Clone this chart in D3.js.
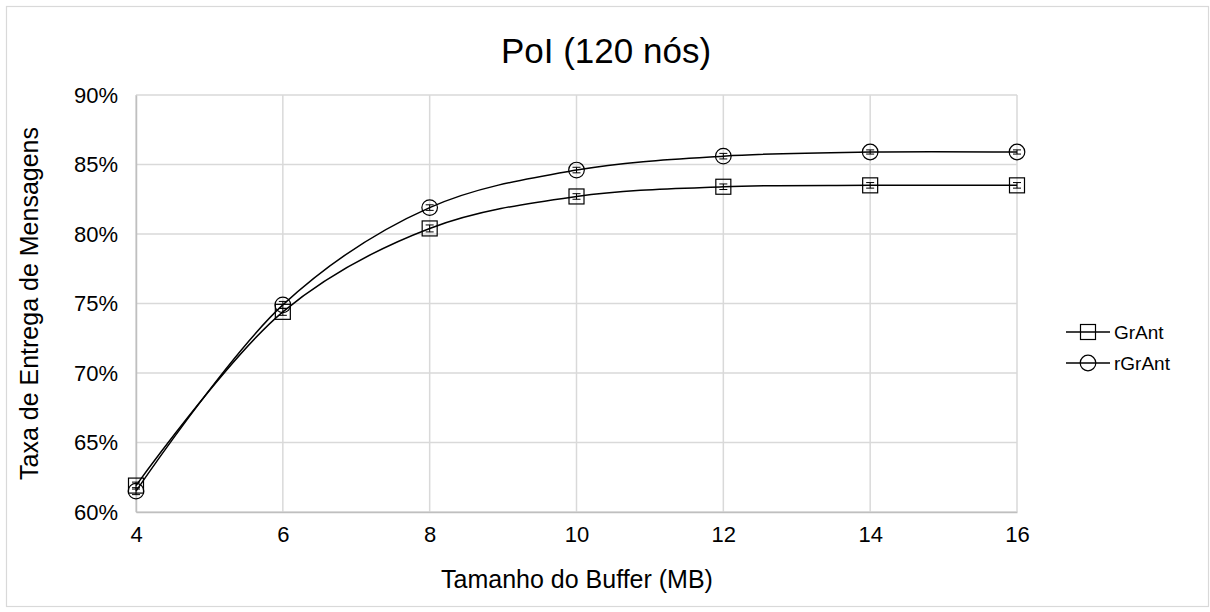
<!DOCTYPE html>
<html>
<head>
<meta charset="utf-8">
<script src="https://cdn.jsdelivr.net/npm/d3@7"></script>
<style>
  html, body { margin: 0; padding: 0; background: #fff; }
  svg { display: block; font-family: "Liberation Sans", Arial, sans-serif; }
</style>
</head>
<body>
<svg id="chart" width="1210" height="612"></svg>
<script>
// Buffer sizes (MB)
const bufferSizes = [4, 6, 8, 10, 12, 14, 16];
// Delivery rate (%) per protocol
const grantValues  = [61.9, 74.4, 80.4, 82.7, 83.4, 83.5, 83.5];
const rgrantValues = [61.5, 74.9, 81.9, 84.6, 85.6, 85.9, 85.9];
// Half-width of the error bars (%)
const grantErr  = [0.25, 0.25, 0.25, 0.2, 0.2, 0.2, 0.2];
const rgrantErr = [0.25, 0.25, 0.2, 0.2, 0.2, 0.15, 0.15];
const yTicks = [60, 65, 70, 75, 80, 85, 90];
const xTicks = [4, 6, 8, 10, 12, 14, 16];

const series = [
  { name: "GrAnt",  values: grantValues,  err: grantErr,  marker: "square" },
  { name: "rGrAnt", values: rgrantValues, err: rgrantErr, marker: "circle" }
];

const svg = d3.select("#chart");
const W = 1210, H = 612;
const plot = { left: 136, right: 1017, top: 95, bottom: 512 };
const tickFont = 22;

// outer frame
svg.append("rect").attr("x", 6.5).attr("y", 6.5).attr("width", W - 8).attr("height", H - 12)
  .attr("fill", "#fff").attr("stroke", "#d9d9d9").attr("stroke-width", 1.2);

const x = d3.scaleLinear().domain([4, 16]).range([plot.left, plot.right]);
const y = d3.scaleLinear().domain([60, 90]).range([plot.bottom, plot.top]);

// grid
const grid = svg.append("g");
grid.selectAll("line.h").data(yTicks).join("line")
  .attr("x1", plot.left).attr("x2", plot.right)
  .attr("y1", d => y(d)).attr("y2", d => y(d))
  .attr("stroke", "#d9d9d9").attr("stroke-width", 1.5);
grid.selectAll("line.v").data(xTicks).join("line")
  .attr("y1", plot.top).attr("y2", plot.bottom)
  .attr("x1", d => x(d)).attr("x2", d => x(d))
  .attr("stroke", "#d9d9d9").attr("stroke-width", 1.5);

// axes
const yAxis = svg.append("g").attr("transform", `translate(${plot.left},0)`)
  .call(d3.axisLeft(y).tickValues(yTicks).tickSize(0).tickPadding(18).tickFormat(d => d + "%"));
const xAxis = svg.append("g").attr("transform", `translate(0,${plot.bottom})`)
  .call(d3.axisBottom(x).tickValues(xTicks).tickSize(0).tickPadding(14).tickFormat(d3.format("d")));
[yAxis, xAxis].forEach(a => {
  a.select(".domain").attr("stroke", "#bfbfbf").attr("stroke-width", 1.5);
  a.selectAll("text").attr("font-size", tickFont).attr("fill", "#000")
    .style("font-family", "'Liberation Sans', Arial, sans-serif");
});

// titles
svg.append("text").attr("x", 606).attr("y", 63).attr("text-anchor", "middle")
  .attr("font-size", 35).attr("fill", "#000").text("PoI (120 nós)");
svg.append("text").attr("x", 577).attr("y", 588).attr("text-anchor", "middle")
  .attr("font-size", 25).attr("fill", "#000").text("Tamanho do Buffer (MB)");
svg.append("text").attr("transform", `translate(38,${(plot.top + plot.bottom) / 2}) rotate(-90)`)
  .attr("text-anchor", "middle").attr("font-size", 25).attr("fill", "#000")
  .text("Taxa de Entrega de Mensagens");

// series
const line = d3.line().x(d => x(d[0])).y(d => y(d[1])).curve(d3.curveCatmullRom.alpha(0.5));

function drawMarker(g, type, cx, cy) {
  if (type === "square") {
    g.append("rect").attr("x", cx - 7.5).attr("y", cy - 7.5).attr("width", 15).attr("height", 15)
      .attr("fill", "none").attr("stroke", "#000").attr("stroke-width", 1.2);
  } else {
    g.append("circle").attr("cx", cx).attr("cy", cy).attr("r", 7.8)
      .attr("fill", "none").attr("stroke", "#000").attr("stroke-width", 1.2);
  }
}

series.forEach(s => {
  const pts = bufferSizes.map((b, i) => [b, s.values[i]]);
  svg.append("path").datum(pts).attr("d", line)
    .attr("fill", "none").attr("stroke", "#000").attr("stroke-width", 1.5);
  const g = svg.append("g");
  pts.forEach((p, i) => {
    const cx = x(p[0]);
    const y1 = y(p[1] + s.err[i]), y2 = y(p[1] - s.err[i]);
    g.append("line").attr("x1", cx).attr("x2", cx).attr("y1", y1).attr("y2", y2)
      .attr("stroke", "#000").attr("stroke-width", 1);
    [y1, y2].forEach(yy => g.append("line").attr("x1", cx - 4).attr("x2", cx + 4)
      .attr("y1", yy).attr("y2", yy).attr("stroke", "#000").attr("stroke-width", 1));
    drawMarker(g, s.marker, cx, y(p[1]));
  });
});

// legend
const legend = svg.append("g");
series.forEach((s, i) => {
  const ly = 332 + i * 31;
  legend.append("line").attr("x1", 1066).attr("x2", 1110).attr("y1", ly).attr("y2", ly)
    .attr("stroke", "#000").attr("stroke-width", 1.5);
  drawMarker(legend, s.marker, 1088, ly);
  legend.append("text").attr("x", 1114).attr("y", ly + 7).attr("font-size", 19)
    .attr("fill", "#000").text(s.name);
});
</script>
</body>
</html>
